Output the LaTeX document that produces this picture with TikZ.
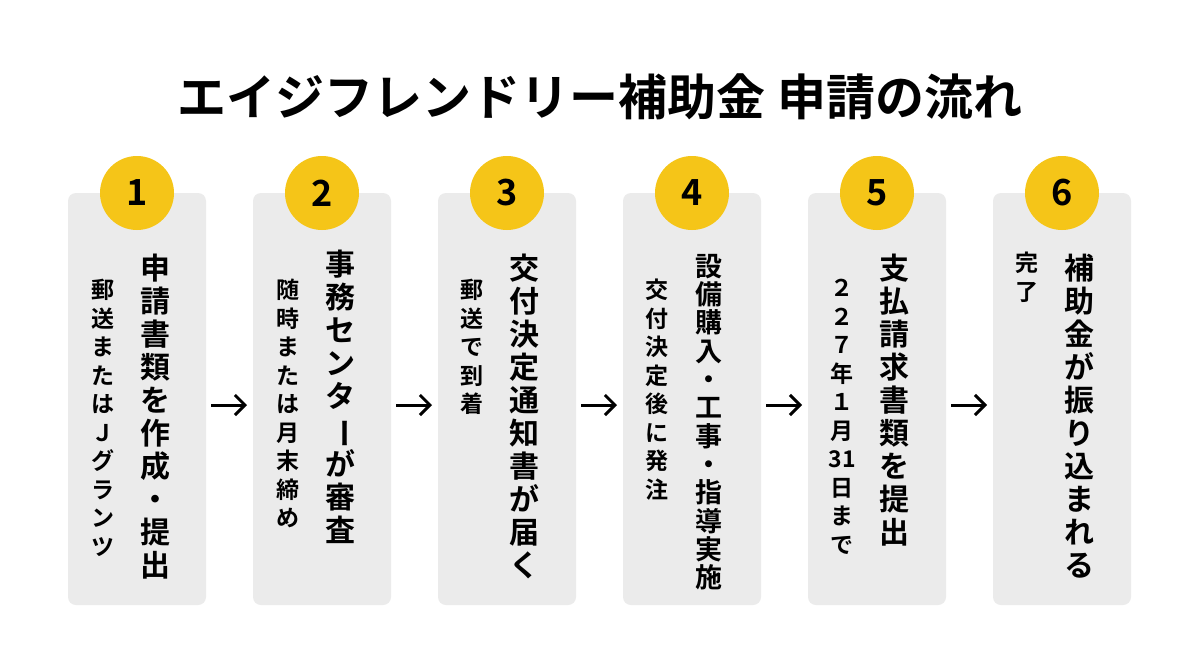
\documentclass[tikz,border=0pt]{standalone}
\usepackage{fontspec}
\setmainfont{Noto Sans CJK JP}[BoldFont={* Bold}]
\usetikzlibrary{arrows.meta}
\definecolor{boxgray}{HTML}{EBEBEB}
\definecolor{badge}{HTML}{F5C518}
\newcommand{\vbar}{\rotatebox[origin=c]{-90}{ー}}
\begin{document}
\begin{tikzpicture}[x=1pt,y=-1pt,
  box/.style={fill=boxgray,rounded corners=8pt,draw=none},
  num/.style={circle,fill=badge,minimum size=74pt,inner sep=0pt,font=\bfseries\fontsize{36}{36}\selectfont},
  main/.style={anchor=north,align=center,inner sep=0pt,font=\bfseries\fontsize{30}{33}\selectfont},
  mainsm/.style={anchor=north,align=center,inner sep=0pt,font=\bfseries\fontsize{27}{28.3}\selectfont},
  sub/.style={anchor=north,align=center,inner sep=0pt,font=\bfseries\fontsize{23}{28.5}\selectfont},
  arr/.style={-{Straight Barb[length=10pt,width=20pt,line width=3pt]},line width=3pt}]
\fill[white] (0,0) rectangle (1200,670);
\node[font=\bfseries\fontsize{49}{49}\selectfont] (title) at (600,97) {エイジフレンドリー補助金 申請の流れ};
\foreach \i/\x in {1/68,2/253,3/438,4/623,5/808,6/993}{
  \fill[box] (\x,193) rectangle ++(138,412);
  \node[num] (n\i) at (\x+69,193) {\i};
  \coordinate (L\i) at (\x-6,405);
  \coordinate (R\i) at (\x+143,405);
}
\node[main] (m1) at (155,254) {申\\請\\書\\類\\を\\作\\成\\・\\提\\出};
\node[sub] (s1) at (103,279) {郵\\送\\ま\\た\\は\\Ｊ\\グ\\ラ\\ン\\ツ};
\node[main] (m2) at (340,250) {事\\務\\セ\\ン\\タ\\\vbar\\が\\審\\査};
\node[sub] (s2) at (288,279) {随\\時\\ま\\た\\は\\月\\末\\締\\め};
\node[main] (m3) at (524,254) {交\\付\\決\\定\\通\\知\\書\\が\\届\\く};
\node[sub] (s3) at (472,279) {郵\\送\\で\\到\\着};
\node[mainsm] (m4) at (709,254) {設\\備\\購\\入\\・\\工\\事\\・\\指\\導\\実\\施};
\node[sub] (s4) at (657,279) {交\\付\\決\\定\\後\\に\\発\\注};
\node[main] (m5) at (894,254) {支\\払\\請\\求\\書\\類\\を\\提\\出};
\node[sub] (s5) at (842,279) {２\\２\\７\\年\\１\\月\\31\\日\\ま\\で};
\node[main] (m6) at (1079,254) {補\\助\\金\\が\\振\\り\\込\\ま\\れ\\る};
\node[sub] (s6) at (1027,252) {完\\了};
\draw[arr] (R1) -- (L2);
\draw[arr] (R2) -- (L3);
\draw[arr] (R3) -- (L4);
\draw[arr] (R4) -- (L5);
\draw[arr] (R5) -- (L6);
\end{tikzpicture}
\end{document}
